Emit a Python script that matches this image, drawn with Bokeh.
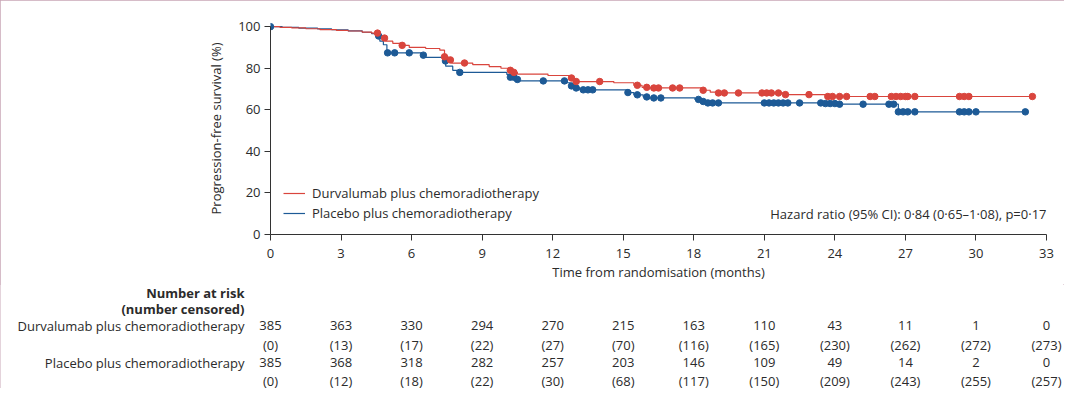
import numpy as np
from bokeh.plotting import figure
from bokeh.layouts import column
from bokeh.models import Range1d, FixedTicker, Legend, LegendItem, Label
from bokeh.core.properties import value
from bokeh.embed import file_html
from bokeh.resources import INLINE

# ---------------- data ----------------
month_ticks = [0, 3, 6, 9, 12, 15, 18, 21, 24, 27, 30, 33]
pct_ticks = [0, 20, 40, 60, 80, 100]

durva_label = "Durvalumab plus chemoradiotherapy"
placebo_label = "Placebo plus chemoradiotherapy"

durva_times = [0, 0.4, 0.9, 1.5, 2.1, 2.8, 3.3, 3.9, 4.3, 4.6, 4.75, 4.9, 5.2, 5.5, 5.9, 6.6,
               7.2, 7.4, 7.55, 7.7, 8.6, 9.3, 9.8, 10.1, 10.25, 10.5, 11.8, 12.7, 12.85, 13.0,
               14.6, 15.45, 15.8, 16.1, 18.3, 18.7, 19.0, 21.8, 23.6]
durva_surv = [100, 99.7, 99.4, 99.0, 98.6, 98.2, 97.9, 97.4, 96.9, 95.8, 94.5, 93.0, 92.0, 91.0,
              90.0, 89.5, 88.7, 85.5, 84.0, 82.5, 81.7, 80.8, 80.0, 79.0, 78.0, 77.2, 76.5, 75.3,
              74.2, 73.6, 73.0, 71.8, 70.8, 70.5, 69.4, 68.5, 68.1, 67.3, 66.4]
durva_end = 32.4
durva_censor = [4.55, 4.85, 5.6, 7.4, 7.65, 8.25, 10.2, 10.35, 12.8, 13.0, 14.0, 15.6, 16.0,
                16.3, 16.5, 17.1, 17.4, 18.4, 19.05, 19.3, 19.9, 20.9, 21.1, 21.3, 21.6, 21.9,
                22.9, 23.7, 23.9, 24.2, 24.5, 25.5, 25.7, 26.4, 26.6, 26.8, 27.0, 27.1, 27.4,
                29.3, 29.5, 29.7, 32.4]

placebo_times = [0, 0.5, 1.2, 2.0, 2.6, 3.3, 3.9, 4.3, 4.55, 4.65, 4.8, 4.95, 6.4, 6.55, 7.35,
                 7.45, 7.75, 7.95, 10.05, 10.2, 10.4, 10.55, 12.6, 12.75, 12.95, 13.15, 15.2,
                 15.45, 15.85, 16.1, 18.05, 18.3, 18.55, 23.5, 24.1, 26.7]
placebo_surv = [100, 99.7, 99.3, 98.9, 98.5, 98.0, 97.3, 96.6, 95.5, 93.0, 91.3, 87.4, 86.3,
                85.2, 83.5, 81.0, 79.0, 78.0, 77.0, 75.7, 74.6, 73.9, 73.0, 71.5, 70.5, 69.6,
                68.3, 67.2, 66.2, 65.7, 65.0, 64.0, 63.3, 63.0, 62.7, 59.0]
placebo_end = 32.1
placebo_censor = [0, 4.6, 4.98, 5.28, 5.9, 6.5, 7.44, 8.05, 10.2, 10.35, 10.5, 11.6, 12.5, 12.8,
                  13.0, 13.3, 13.5, 13.7, 15.2, 15.6, 16.0, 16.3, 16.6, 18.2, 18.4, 18.6, 18.8,
                  19.05, 21.0, 21.2, 21.4, 21.6, 21.8, 22.0, 22.5, 23.4, 23.6, 23.8, 24.0, 24.2,
                  25.2, 26.3, 26.5, 26.7, 26.9, 27.1, 27.4, 29.3, 29.5, 29.7, 30.0, 32.1]

durva_at_risk = [385, 363, 330, 294, 270, 215, 163, 110, 43, 11, 1, 0]
durva_censored = [0, 13, 17, 22, 27, 70, 116, 165, 230, 262, 272, 273]
placebo_at_risk = [385, 368, 318, 282, 257, 203, 146, 109, 49, 14, 2, 0]
placebo_censored = [0, 12, 18, 22, 30, 68, 117, 150, 209, 243, 255, 257]

hazard_text = "Hazard ratio (95% CI): 0·84 (0·65–1·08), p=0·17"
risk_heading = ["Number at risk", "(number censored)"]

# ---------------- style ----------------
RED = "#d9453d"
BLUE = "#1d5a96"
TXT = "#2b2b2b"
FONT = "Open Sans"
FS = "13px"

W = 1064
TOP_H = 284
BOT_H = 104
FRAME_L = 270
FRAME_R = 1046
FRAME_B = 234
PPM = (FRAME_R - FRAME_L) / 33.0  # pixels per month

p = figure(width=W, height=TOP_H, output_backend="svg", toolbar_location=None,
           x_range=Range1d(0, 33), y_range=Range1d(0, 102),
           min_border_left=FRAME_L, min_border_right=W - FRAME_R,
           min_border_top=22, min_border_bottom=TOP_H - FRAME_B)
p.outline_line_color = None
p.xgrid.visible = False
p.ygrid.visible = False
p.background_fill_color = "white"
p.border_fill_color = "white"

for ax in (p.xaxis[0], p.yaxis[0]):
    ax.axis_line_color = "#333333"
    ax.major_tick_line_color = "#333333"
    ax.minor_tick_line_color = None
    ax.major_tick_in = 0
    ax.major_tick_out = 6
    ax.major_label_text_font = FONT
    ax.major_label_text_font_size = FS
    ax.major_label_text_color = TXT
    ax.axis_label_text_font = FONT
    ax.axis_label_text_font_size = FS
    ax.axis_label_text_font_style = "normal"
    ax.axis_label_text_color = TXT

p.xaxis.ticker = FixedTicker(ticks=month_ticks)
p.yaxis.ticker = FixedTicker(ticks=pct_ticks)
p.xaxis.bounds = (0, 33)
p.yaxis.bounds = (0, 100)
p.xaxis.axis_label = "Time from randomisation (months)"
p.yaxis.axis_label = "Progression-free survival (%)"
p.xaxis.major_label_standoff = 8
p.xaxis.axis_label_standoff = 2
p.yaxis.major_label_standoff = 4
p.yaxis.axis_label_standoff = 10


def step_xy(times, surv, end):
    return list(times) + [end], list(surv) + [surv[-1]]


def censor_y(times, surv, cens):
    t = np.asarray(times)
    s = np.asarray(surv)
    idx = np.searchsorted(t, np.asarray(cens), side="right") - 1
    return s[idx]


dx, dy = step_xy(durva_times, durva_surv, durva_end)
px_, py_ = step_xy(placebo_times, placebo_surv, placebo_end)

pl_line = p.step(px_, py_, mode="after", line_color=BLUE, line_width=1.2)
du_line = p.step(dx, dy, mode="after", line_color=RED, line_width=1.2)
p.scatter(placebo_censor, censor_y(placebo_times, placebo_surv, placebo_censor),
          size=6.5, color=BLUE, line_color=BLUE)
p.scatter(durva_censor, censor_y(durva_times, durva_surv, durva_censor),
          size=6.5, color=RED, line_color=RED)

legend = Legend(items=[LegendItem(label=durva_label, renderers=[du_line]),
                       LegendItem(label=placebo_label, renderers=[pl_line])],
                location=(13, 11), border_line_color=None, background_fill_alpha=0,
                padding=0, margin=0, spacing=0, label_height=20, glyph_height=20,
                glyph_width=22, label_standoff=7, label_text_font=FONT,
                label_text_font_size=FS, label_text_color=TXT)
p.add_layout(legend)

p.add_layout(Label(x=33, y=10.1, text=hazard_text, text_align="right", text_baseline="middle",
                   text_font=FONT, text_font_size=FS, text_color=TXT))

# ------------- number at risk table (second figure, same month scale) -------------
q = figure(width=W, height=BOT_H, output_backend="svg", toolbar_location=None,
           x_range=Range1d(-FRAME_L / PPM, (W - FRAME_L) / PPM),
           y_range=Range1d(BOT_H, 0),
           x_axis_type=None, y_axis_type=None,
           min_border_left=0, min_border_right=0, min_border_top=0, min_border_bottom=0)
q.outline_line_color = None
q.xgrid.visible = False
q.ygrid.visible = False
q.background_fill_color = "white"
q.border_fill_color = "white"

# keep each figure's frame where it is set (no cross-figure frame alignment)
for fig in (p, q):
    try:
        fig.frame_align = False
    except Exception:
        pass

label_x = (244 - FRAME_L) / PPM
head_y = [8, 24]
row_y = [41, 60, 78, 96]

q.text(x=[label_x] * 2, y=head_y, text=risk_heading, text_align="right",
       text_baseline="middle", text_font=value(FONT), text_font_size=value(FS),
       text_font_style="bold", text_color=TXT)
q.text(x=[label_x] * 2, y=[row_y[0], row_y[2]], text=[durva_label, placebo_label],
       text_align="right", text_baseline="middle", text_font=value(FONT),
       text_font_size=value(FS), text_color=TXT)

row_texts = [[str(v) for v in durva_at_risk],
             ["(%d)" % v for v in durva_censored],
             [str(v) for v in placebo_at_risk],
             ["(%d)" % v for v in placebo_censored]]
for yy, texts in zip(row_y, row_texts):
    q.text(x=month_ticks, y=[yy] * len(month_ticks), text=texts, text_align="center",
           text_baseline="middle", text_font=value(FONT), text_font_size=value(FS),
           text_color=TXT)

layout = column(p, q, spacing=0,
                styles={"outline": "1px solid #c9a6b6", "outline-offset": "-1px"})

open("out.html", "w").write(file_html(layout, INLINE))
